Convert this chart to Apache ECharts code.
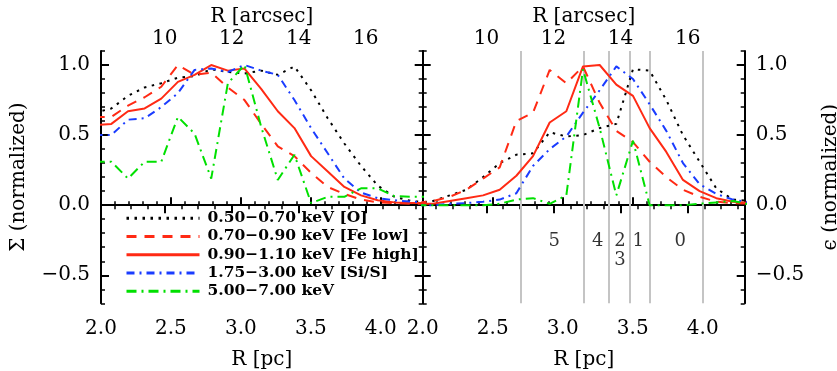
<!DOCTYPE html>
<html>
<head>
<meta charset="utf-8">
<script src="https://cdn.jsdelivr.net/npm/echarts@6/dist/echarts.min.js"></script>
<style>
  html, body { margin: 0; padding: 0; background: #fff; }
  #chart { width: 837px; height: 371px; }
</style>
</head>
<body>
<div id="chart"></div>
<script>
// radius of each annulus, pc
const radiusPc = [1.955, 2.074, 2.193, 2.312, 2.431, 2.550, 2.669, 2.788, 2.907, 3.026, 3.145,
  3.264, 3.383, 3.502, 3.621, 3.740, 3.859, 3.978, 4.097, 4.216, 4.335]

const bandNames = ['0.50−0.70 keV [O]', '0.70−0.90 keV [Fe low]', '0.90−1.10 keV [Fe high]',
  '1.75−3.00 keV [Si/S]', '5.00−7.00 keV']

// left panel: surface brightness (normalized)
const sigmaO = [0.66, 0.69, 0.78, 0.84, 0.87, 0.91, 0.92, 0.97, 0.95, 0.94, 0.96, 0.93, 0.99, 0.82, 0.62, 0.44, 0.28, 0.14, 0.06, 0.03, 0.02]
const sigmaFeLow = [0.63, 0.63, 0.71, 0.77, 0.845, 1.0, 0.93, 0.945, 0.84, 0.75, 0.58, 0.42, 0.35, 0.23, 0.13, 0.08, 0.04, 0.02, 0.015, 0.01, 0.01]
const sigmaFeHigh = [0.57, 0.58, 0.67, 0.69, 0.76, 0.88, 0.93, 1.0, 0.96, 0.975, 0.83, 0.67, 0.55, 0.35, 0.24, 0.13, 0.07, 0.035, 0.02, 0.015, 0.015]
const sigmaSiS = [0.50, 0.50, 0.61, 0.62, 0.70, 0.80, 0.965, 0.975, 0.95, 1.0, 0.96, 0.93, 0.75, 0.55, 0.37, 0.19, 0.09, 0.05, 0.035, 0.025, 0.02]
const sigmaHard = [0.31, 0.31, 0.19, 0.31, 0.31, 0.63, 0.51, 0.19, 0.87, 1.0, 0.56, 0.18, 0.36, 0.015, 0.06, 0.06, 0.12, 0.12, 0.065, 0.06, 0.06]

// right panel: emissivity (normalized)
const epsO = [0.015, 0.03, 0.07, 0.11, 0.20, 0.30, 0.36, 0.37, 0.52, 0.49, 0.50, 0.55, 0.58, 0.97, 0.96, 0.75, 0.50, 0.31, 0.12, 0.04, 0.03]
const epsFeLow = [0.015, 0.03, 0.06, 0.11, 0.19, 0.27, 0.60, 0.66, 0.965, 0.87, 0.99, 0.73, 0.53, 0.45, 0.31, 0.20, 0.11, 0.06, 0.025, 0.015, 0.01]
const epsFeHigh = [0.01, 0.01, 0.03, 0.05, 0.07, 0.11, 0.21, 0.35, 0.59, 0.67, 0.99, 1.0, 0.86, 0.78, 0.55, 0.38, 0.18, 0.10, 0.05, 0.025, 0.015]
const epsSiS = [0.0, 0.0, 0.01, 0.015, 0.025, 0.04, 0.085, 0.28, 0.40, 0.49, 0.66, 0.82, 0.99, 0.90, 0.72, 0.53, 0.30, 0.15, 0.08, 0.04, 0.02]
const epsHard = [0.0, 0.0, 0.0, 0.0, 0.0, 0.01, 0.04, 0.05, 0.01, 0.07, 0.97, 0.55, 0.07, 0.46, 0.0, 0.0, 0.0, 0.01, 0.02, 0.03, 0.005]

// region boundaries and labels (right panel)
const boundaries = [2.70, 3.15, 3.33, 3.48, 3.62, 4.00]
const regionNames = ['5', '4', '2', '3', '1', '0']
const regionX = [2.94, 3.25, 3.41, 3.41, 3.54, 3.84]
const regionY = [-0.26, -0.26, -0.26, -0.39, -0.26, -0.26]

// tick labels
const pcTicks = [2.0, 2.5, 3.0, 3.5, 4.0]
const arcsecTicks = [10, 12, 14, 16]
const yTicks = [-0.5, 0.0, 0.5, 1.0]
const arcsecRange = [8.1, 17.7]

const font = '"DejaVu Serif", serif'
const ink = '#000'
const styles = [
  { color: '#000000', type: [2.5, 5.5] },
  { color: '#ff2a14', type: [10, 8] },
  { color: '#ff2a14', type: 'solid' },
  { color: '#1a3cff', type: [8, 5, 2, 5] },
  { color: '#00e000', type: [10, 5, 2, 5] },
]

const textStyle = { color: ink, fontFamily: font, fontSize: 20 }
const lineStyle = { color: ink, width: 2 }
const minorStyle = { color: ink, width: 1.5 }

const arcsecMinor = []
for (let v = 8.5; v < arcsecRange[1]; v += 0.5) arcsecMinor.push(v)

function fmtY(v) {
  return v < 0 ? '\u2212' + Math.abs(v).toFixed(1) : v.toFixed(1)
}

function pcAxis(grid, minor) {
  return {
    type: 'value', gridIndex: grid, position: 'bottom', min: 2, max: 4.3,
    interval: minor ? 0.1 : undefined,
    axisLine: { show: !minor, lineStyle },
    axisTick: minor
      ? { inside: true, length: 4, lineStyle: minorStyle }
      : { inside: true, length: 8, customValues: pcTicks, lineStyle },
    axisLabel: minor
      ? { show: false }
      : { customValues: pcTicks, formatter: (v) => v.toFixed(1), margin: 15, ...textStyle },
    splitLine: { show: false },
    name: minor ? '' : 'R [pc]',
    nameLocation: 'middle',
    nameGap: 46,
    nameTextStyle: textStyle,
  }
}

function arcsecAxis(grid, minor) {
  return {
    type: 'value', gridIndex: grid, position: 'top', min: arcsecRange[0], max: arcsecRange[1],
    axisLine: { show: !minor, lineStyle },
    axisTick: minor
      ? { inside: true, length: 4, customValues: arcsecMinor, lineStyle: minorStyle }
      : { inside: true, length: 8, customValues: arcsecTicks, lineStyle },
    axisLabel: minor
      ? { show: false }
      : { customValues: arcsecTicks, margin: 5, ...textStyle, lineHeight: 14 },
    splitLine: { show: false },
    name: minor ? '' : 'R [arcsec]',
    nameLocation: 'middle',
    nameGap: 26,
    nameMoveOverlap: false,
    nameTextStyle: { ...textStyle, lineHeight: 16 },
  }
}

function normAxis(grid, side, minor, labelled, name, gap) {
  return {
    type: 'value', gridIndex: grid, position: side, min: -0.7, max: 1.1,
    interval: minor ? 0.1 : undefined,
    axisLine: { show: !minor, lineStyle },
    axisTick: minor
      ? { inside: true, length: 4, lineStyle: minorStyle }
      : { inside: true, length: 8, customValues: yTicks, lineStyle },
    axisLabel: labelled
      ? { customValues: yTicks, formatter: fmtY, margin: 11, ...textStyle }
      : { show: false },
    splitLine: { show: false },
    name: name || '',
    nameLocation: 'middle',
    nameGap: gap || 70,
    nameTextStyle: textStyle,
  }
}

function pairs(values) {
  return values.map((v, i) => [radiusPc[i], v])
}

function curves(panel, sets) {
  return sets.map((values, i) => ({
    name: bandNames[i],
    type: 'line',
    xAxisIndex: panel * 4,
    yAxisIndex: panel * 4,
    data: pairs(values),
    symbol: 'none',
    z: 3,
    lineStyle: { width: 2, color: styles[i].color, type: styles[i].type },
    itemStyle: { color: styles[i].color },
  }))
}

const option = {
  animation: false,
  backgroundColor: '#fff',
  textStyle: { fontFamily: font },
  grid: [
    { left: 101, top: 51, width: 321.7, height: 252.3, outerBoundsMode: 'none' },
    { left: 422.7, top: 51, width: 322, height: 252.3, outerBoundsMode: 'none' },
  ],
  xAxis: [
    pcAxis(0, false), pcAxis(0, true), arcsecAxis(0, false), arcsecAxis(0, true),
    pcAxis(1, false), pcAxis(1, true), arcsecAxis(1, false), arcsecAxis(1, true),
  ],
  yAxis: [
    normAxis(0, 'left', false, true, 'Σ (normalized)', 72), normAxis(0, 'left', true, false),
    normAxis(0, 'right', false, false), normAxis(0, 'right', true, false),
    normAxis(1, 'right', false, true, 'ϵ (normalized)', 76), normAxis(1, 'right', true, false),
    normAxis(1, 'left', false, false), normAxis(1, 'left', true, false),
  ],
  legend: {
    data: bandNames,
    orient: 'vertical',
    left: 120,
    top: 204,
    itemWidth: 73,
    itemHeight: 10,
    itemGap: 0,
    selectedMode: false,
    lineStyle: { width: 3 },
    itemStyle: { opacity: 0 },
    textStyle: { color: ink, fontFamily: font, fontSize: 15.5, fontWeight: 'bold', lineHeight: 18.3, padding: [0, 0, 0, 3] },
  },
  series: [
    ...curves(0, [sigmaO, sigmaFeLow, sigmaFeHigh, sigmaSiS, sigmaHard]),
    ...curves(1, [epsO, epsFeLow, epsFeHigh, epsSiS, epsHard]),
    {
      type: 'scatter',
      xAxisIndex: 4,
      yAxisIndex: 4,
      z: 1,
      symbolSize: 0,
      silent: true,
      data: regionNames.map((n, i) => [regionX[i], regionY[i], n]),
      label: { show: true, position: 'inside', formatter: (p) => p.data[2], ...textStyle, fontSize: 18 },
      markLine: {
        silent: true,
        z: 1,
        symbol: ['none', 'none'],
        label: { show: false },
        lineStyle: { color: '#c4c4c4', width: 2, type: 'solid' },
        data: boundaries.map((x) => ({ xAxis: x })),
      },
    },
  ],
}

const chart = echarts.init(document.getElementById('chart'))
chart.setOption(option)
</script>
</body>
</html>
